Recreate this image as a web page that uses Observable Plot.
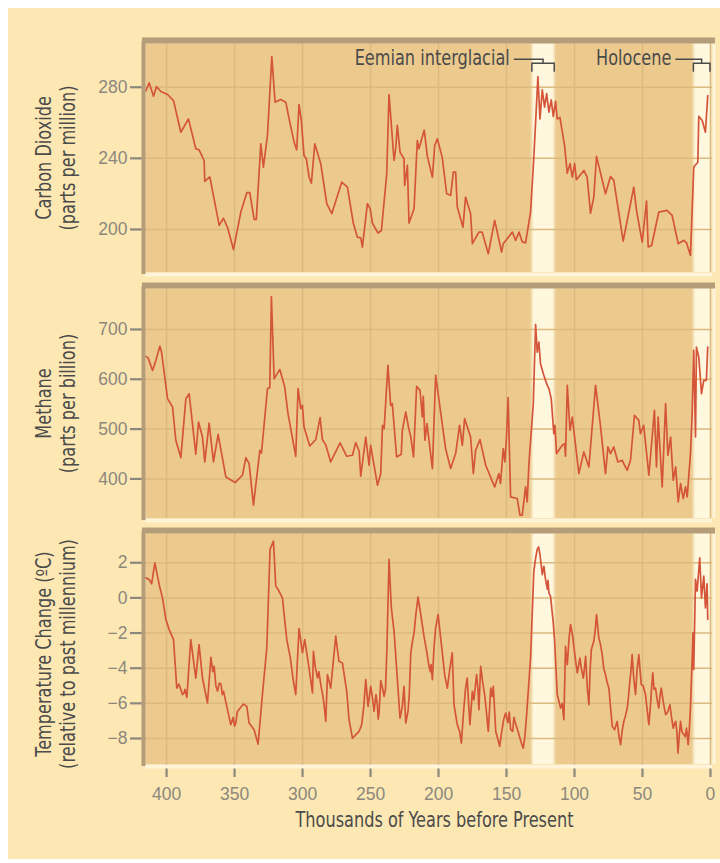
<!DOCTYPE html>
<html><head><meta charset="utf-8">
<script src="https://cdn.jsdelivr.net/npm/d3@7"></script>
<script src="https://cdn.jsdelivr.net/npm/@observablehq/plot@0.6"></script>
<style>
html,body{margin:0;padding:0;background:#fff;}
#chart{position:relative;width:720px;height:863px;overflow:hidden;}
#bg{position:absolute;left:8px;top:8px;width:712px;height:851px;background:#fde8b3;}
.panel{position:absolute;left:0;width:720px;}
.panel svg{display:block;}
</style></head><body>
<div id="chart"><div id="bg"></div></div>
<script>
// ---------- data (age in thousands of years before present, value) ----------
const xTicks = [400, 350, 300, 250, 200, 150, 100, 50, 0];
const co2Ticks = [200, 240, 280];
const ch4Ticks = [400, 500, 600, 700];
const tempTicks = [-8, -6, -4, -2, 0, 2];

const periodNames = ["Eemian interglacial", "Holocene"];
const periodStart = [131, 12.2];
const periodEnd = [114.5, 0];

const co2Titles = ["Carbon Dioxide", "(parts per million)"];
const ch4Titles = ["Methane", "(parts per billion)"];
const tempTitles = ["Temperature Change (ºC)", "(relative to past millennium)"];
const xTitle = "Thousands of Years before Present";

const co2 = [[415.2,278.1],[412.8,282.5],[409.6,274.9],[407.4,280.4],[404.2,277.6],[399.3,275.9],[394.9,272.5],[389.5,254.7],[383.9,262.2],[378.5,245.4],[376.1,244.8],[372.4,238.8],[371.9,227],[368.2,229.6],[361.3,202.3],[358.2,206.3],[355.2,201.2],[350.8,188.7],[345.4,209.8],[341,220.7],[338.8,220.7],[335.6,205.7],[334,205.7],[330.7,248.2],[328.8,235.1],[325.8,252.9],[322.6,297.2],[320.2,271.6],[316.1,273.1],[312.3,271.6],[309.9,262.2],[306.2,249.1],[304.3,244.8],[302.6,270.3],[300.9,261.3],[298.9,241.6],[297.2,239.8],[295.2,229.4],[293.5,226.1],[291,248.2],[286.6,237],[282.2,214.5],[278.5,208.9],[271.2,226.6],[267,223.8],[262.6,203.3],[259.7,195.7],[257.2,195.3],[256,190.1],[252.3,214.5],[250.3,211.7],[248.6,203.6],[244.5,198],[242,199.4],[238.1,231.3],[236.4,275.9],[232.7,238.8],[231.5,245.4],[230.3,258.5],[228.3,243.5],[225.4,239.8],[224.9,224.8],[222.9,236],[221.7,203.6],[218,211.7],[215.6,250],[214.4,245.4],[210.5,255.9],[208.2,241.1],[204.5,229.4],[202.8,247.2],[200.9,251],[197.3,240.7],[194,220.1],[191.1,219.2],[189.1,232.2],[187.4,232.2],[186.2,212.6],[182,201.3],[180.1,218.2],[176.4,208.9],[175.1,192],[170.3,198.5],[167.9,198.5],[163.4,186.4],[158.7,205.1],[153.6,187.3],[152.4,192],[145.7,198.5],[143.3,193.9],[140.8,198.5],[138.4,193],[136,192.5],[132.3,209.8],[129.9,240.7],[126.9,286],[125.4,262.2],[123.7,278.5],[122,268.8],[120.5,276.4],[118.8,266],[117.1,272.9],[115.6,263.6],[113.9,272.1],[112.7,262.2],[110.7,263],[107.3,247.2],[105.3,231.7],[103.3,237],[101.6,229.4],[99.9,237],[98.6,228],[93.1,233.2],[90.7,229.4],[88.2,209.2],[85.8,218.2],[83.8,241.1],[77.2,220.1],[73.5,229.8],[71.1,227.6],[64.2,193.5],[56.4,223.8],[54.4,210.7],[50.2,192.9],[47,216],[45.8,190.1],[43.3,191],[38,209.8],[31.9,210.7],[28.2,207.9],[23.7,192],[19.6,193.9],[17.6,192.5],[14.7,185.4],[12.3,235.1],[9.3,237.8],[8.6,263.6],[6.1,261.4],[3.7,254.7],[2,275.3]];

const ch4 = [[415.2,645.9],[413.5,642.4],[410.3,617.8],[407.9,637.9],[404.9,666.6],[403.7,654.5],[399.3,561.1],[395.6,544.3],[393.2,477.6],[389.5,442.9],[385.8,561.1],[383.4,571.1],[378.5,449.5],[376.5,514.2],[373.6,484.2],[371.9,434.1],[368.7,512.2],[365.5,434.1],[362.1,489.6],[356.4,404],[349.6,392.8],[344.2,407.4],[341.7,442.9],[339.3,430.9],[336.1,347.3],[331.4,457.5],[330.2,452],[325.8,581.2],[324.1,583],[322.9,766.1],[320.9,601.2],[316.7,619.8],[313.1,584.4],[310.7,531.1],[305,445.5],[303.3,581.2],[301.3,541.1],[300.1,547.7],[298.9,504.2],[294.7,466.1],[290.3,478.9],[287.1,523],[285.4,478.9],[283,468.9],[279.3,434.1],[272.4,472.2],[267.5,445.5],[263.3,447.5],[260.9,472.9],[258.4,456.1],[257.2,405.4],[253.5,484.2],[251.1,427.5],[249.9,467.5],[244.9,387.4],[242.5,410.8],[241.2,507.6],[240,500.9],[237.2,627.9],[235.2,547.7],[234,551.1],[230.8,444.1],[227.4,449.5],[226.6,497.6],[224.1,534.3],[222.1,504.2],[220.4,484.2],[218.4,444.1],[216.1,585.8],[213.6,577.8],[211.9,524.3],[211.2,565.7],[210,477.6],[208.5,511],[204.5,420.8],[202.1,607.8],[194.8,460.9],[191.1,420.8],[187.4,450.9],[184.5,507.6],[182.5,467.5],[180.8,521],[176.4,484.2],[174.4,410.8],[172.7,457.5],[169.5,478.9],[165.3,427.5],[158.7,384],[155.6,410.8],[154.4,390.8],[152.4,460.9],[151.2,434.1],[150,484.2],[148.8,563.1],[147,364],[142.1,360.7],[140.1,327.3],[138.4,327.3],[136,384],[134.8,353.9],[133.5,430.9],[130.3,551.1],[128.6,710],[127.4,654.5],[126.2,674.5],[125,631.3],[122.5,607.8],[121.3,597.8],[120,587.8],[118.8,581.2],[117.1,561.1],[115.2,491],[114.4,507.6],[113.2,450.9],[109,467.5],[107.3,470.8],[106.6,445.5],[105.3,587.8],[103.3,497.6],[101.6,524.3],[96.8,410.8],[93.1,454.2],[89.4,424],[84.5,587.8],[80.8,504.2],[77.2,410.8],[75.4,464.2],[73.5,450.9],[71.1,464.2],[68.1,434.1],[65,437.5],[61.2,417.4],[58.8,437.5],[55.9,527.7],[52.7,517.6],[51.5,491],[49.1,507.6],[45.3,407.4],[41.2,537.7],[39.7,424],[38.5,524.3],[35.5,384],[33,551.1],[31.3,447.5],[29.3,484.2],[27.4,397.4],[25.6,424],[23.7,353.9],[22,390.8],[20,360.7],[18.3,384],[17.1,364],[14.7,450.9],[13.5,527.7],[12.3,657.9],[11,484.2],[10.3,664.6],[8.6,644.5],[6.6,571.1],[4.9,597.8],[3,597.8],[2,664.6]];

const temp = [[415.2,1.14],[412.8,1.05],[411,0.8],[408.6,1.99],[405.4,0.74],[403,0],[400.5,-1.23],[398.1,-1.8],[394.9,-2.37],[392.5,-5.13],[391,-4.9],[389.5,-5.22],[388.3,-5.5],[387.1,-5.41],[386.5,-5.2],[385.1,-5.66],[382.2,-2.37],[378.5,-4.56],[376.1,-2.66],[373.6,-4.56],[369.9,-5.98],[367.4,-3.38],[366,-4.2],[365,-3.9],[363.7,-5.03],[362.5,-5.3],[361.3,-4.85],[360,-4.9],[359,-5.5],[358.1,-5.32],[352.8,-7.21],[351,-6.8],[350,-7.3],[349.1,-7.12],[347.9,-6.46],[343.5,-6.04],[341,-6.17],[339.3,-7.12],[335.6,-7.5],[332.7,-8.32],[329.5,-5.5],[326.3,-2.85],[323.9,2.76],[321.4,3.23],[319.7,0.67],[318,0.48],[314.8,0],[311.6,-2.37],[309,-3.4],[307,-4.6],[305,-5.5],[302.6,-1.74],[300.1,-3.13],[298.4,-2.37],[295.2,-3.99],[292.7,-5.41],[292,-3.04],[290.5,-4.0],[289,-4.56],[288,-4.2],[286.6,-4.93],[285,-5.6],[284,-6.2],[282.9,-7.03],[281.7,-4.37],[279.3,-5.13],[275.6,-2.18],[273.2,-3.61],[270.7,-3.7],[267.5,-5.32],[265.8,-6.93],[263.3,-7.98],[258.4,-7.6],[256.5,-7.2],[255,-6.2],[253.5,-4.65],[251.8,-6.17],[249.9,-5.03],[248.7,-5.6],[247.4,-6.46],[246,-5.5],[245,-6.08],[244.4,-6.9],[243.7,-6.55],[242.5,-4.71],[241.3,-5.1],[240,-5.6],[239,-5.2],[238,-3.0],[236.4,2.19],[234.7,-0.57],[232.7,-1.9],[228.3,-6.84],[226.6,-6.17],[225.4,-5.03],[224.1,-7.12],[222.4,-6.42],[221.5,-5.5],[220.4,-3.13],[219,-2.4],[218,-2.0],[216.8,-1.04],[215.1,0.04],[213.6,-0.66],[210.7,-2.18],[208.7,-3.04],[207,-3.89],[206,-4.2],[205.5,-3.8],[204.5,-4.65],[203.3,-2.8],[202.1,-1.71],[200.3,-0.95],[197.2,-3.13],[195.5,-4.37],[193.5,-5.13],[191.6,-3.99],[189.9,-3.13],[188.6,-6.08],[186.2,-7.21],[184.5,-7.6],[183.2,-8.26],[181.5,-6.4],[180.1,-5.13],[178.9,-4.56],[177.8,-6.1],[176.9,-7.21],[175.1,-5.32],[174,-5.8],[172,-4.37],[171,-5.2],[170.3,-6.36],[169,-3.89],[167.5,-4.8],[166.1,-5.5],[165,-6.3],[163.4,-7.6],[162.5,-6.4],[161.6,-5.13],[160.5,-5.6],[159.7,-5.03],[157.9,-7.6],[156.5,-8.0],[155,-8.45],[153.5,-7.6],[152,-6.9],[150.6,-6.55],[149,-7.1],[148,-6.5],[146.9,-7.5],[145.5,-7.6],[144.5,-6.8],[143.8,-7.03],[142.3,-7.4],[140.8,-7.78],[139.3,-8.2],[137.7,-8.55],[136.5,-7.9],[135.2,-6.64],[132.3,-3.42],[129.9,1.52],[128.5,2.3],[127.4,2.76],[126.4,2.9],[125.4,2.47],[124.5,1.9],[123.7,1.33],[122.5,1.8],[121.3,1.05],[120,0.5],[119.5,1.0],[118.8,0.28],[117.6,0.09],[115.6,-1.42],[114.6,-2.47],[112.7,-5.5],[110.2,-6.27],[109,-6.0],[107.8,-6.93],[106.6,-2.75],[105.3,-3.8],[104,-2.3],[102.9,-1.52],[101.5,-2.1],[99.9,-3.13],[98.8,-3.8],[97.9,-4.27],[96,-3.42],[95,-4.0],[93.5,-4.56],[92.5,-3.9],[91.8,-3.32],[90.5,-5.2],[89.4,-6.08],[88.5,-4.1],[87.6,-2.94],[85.8,-2.47],[84.7,-1.8],[83.8,-0.95],[82.1,-2.28],[81,-2.6],[79.6,-3.23],[78.5,-4.0],[77.2,-4.37],[76,-4.8],[74.7,-5.13],[73.5,-6.2],[72.2,-7.31],[70.5,-7.5],[68.6,-7.03],[67.4,-7.8],[66.1,-8.35],[65,-7.6],[63.7,-7.03],[62.5,-6.7],[61.2,-6.27],[60.5,-5.8],[59.3,-4.75],[58.5,-4.2],[57.6,-3.23],[56.5,-4.5],[55.1,-5.5],[54,-4.1],[52.7,-3.23],[52,-3.9],[50.9,-4.93],[49.5,-5.0],[47.8,-5.5],[46.5,-6.4],[45.3,-7.21],[44,-6.0],[43.2,-5.0],[42.4,-4.27],[41.5,-5.2],[40.4,-5.13],[39.2,-5.8],[38,-6.27],[37,-5.5],[36.2,-5.13],[34.5,-6.0],[33,-6.64],[31.5,-6.5],[29.8,-6.08],[28.6,-6.8],[27.4,-7.41],[26.5,-7.2],[25.6,-7.03],[24.7,-7.6],[23.9,-8.83],[23,-7.9],[22,-7.03],[21,-7.6],[19.6,-7.78],[18.6,-7.9],[17.6,-7.41],[16.4,-8.35],[15.5,-7.4],[14.7,-6.27],[12.8,-1.99],[12.3,-4.08],[11,1.05],[9.8,0.38],[7.9,2.28],[6.6,0],[4.9,1.24],[3.7,-0.57],[2.5,0.8],[2,-1.23]];

// ---------- styling ----------
const C = {panel:"#ecca8e", grid:"#dcb97f", band:"#fff7de", dark:"#b69d79", light:"#fff3d8",
           line:"#d4553a", tick:"#8c877d", text:"#4b4b4b"};
const X_DOMAIN = [415.5, -1.5];

function hasFont(name) {
  const c = document.createElement("canvas").getContext("2d");
  const s = "Thousands of Years abcdefgimw 0123";
  c.font = "20px monospace"; const w0 = c.measureText(s).width;
  c.font = `20px "${name}", monospace`; return c.measureText(s).width !== w0;
}
const TITLE_FONT = hasFont("Liberation Sans Narrow") ? '"Liberation Sans Narrow"' :
                   hasFont("DejaVu Sans Condensed") ? '"DejaVu Sans Condensed"' : '"Roboto", sans-serif';
const NUM_FONT = '"Liberation Sans", Arial, sans-serif';
const TITLE_SIZE = 20.5;
// horizontal compression so the condensed face matches the narrow original lettering
const SQUEEZE = (() => {
  const c = document.createElement("canvas").getContext("2d");
  c.font = `${TITLE_SIZE}px ${TITLE_FONT}`;
  return Math.min(1, 278 / c.measureText(xTitle).width);
})();

const periods = periodNames.map((name, i) => ({name, start: periodStart[i], end: periodEnd[i]}));
let uid = 0;

function squeezeText(root) {
  d3.select(root).selectAll('g[aria-label="text"] text, g.period-annotations text').each(function() {
    const parts = this.querySelectorAll("tspan");
    const list = parts.length ? Array.from(parts) : [this];
    for (const el of list) {
      const w = el.getComputedTextLength();
      if (w > 0) { el.setAttribute("textLength", (w * SQUEEZE).toFixed(1)); el.setAttribute("lengthAdjust", "spacingAndGlyphs"); }
    }
  });
}

function makePanel(cfg) {
  const rows = d3.sort(cfg.data.map(([age, v]) => ({age, v})), d => -d.age);
  const [y0, y1] = cfg.yDomain;
  const marks = [
    Plot.frame({fill: C.panel, stroke: "none"}),
    Plot.rect(periods, {x1: "start", x2: d => d.end === 0 ? X_DOMAIN[1] : d.end, y1: y0, y2: y1, fill: C.band}),
    Plot.ruleX(xTicks, {stroke: C.grid, strokeWidth: 1.5}),
    Plot.ruleY(cfg.yTicks, {stroke: C.grid, strokeWidth: 1.5}),
    Plot.line(rows, {x: "age", y: "v", stroke: C.line, strokeWidth: 1.7, strokeLinejoin: "round"}),
    Plot.ruleY([y0], {stroke: C.light, strokeWidth: 4, dy: 2}),
    Plot.ruleX([X_DOMAIN[1]], {stroke: C.light, strokeWidth: 3, dx: 1.5}),
    Plot.ruleX([X_DOMAIN[0]], {stroke: C.dark, strokeWidth: 4, dx: -2, strokeLinecap: "square"}),
    Plot.ruleY([y1], {stroke: C.dark, strokeWidth: 6, dy: -3, strokeLinecap: "square"}),
    Plot.text([cfg.titles.join("\n")], {frameAnchor: "left", textAnchor: "middle", lineAnchor: "middle",
      rotate: -90, dx: -90, dy: cfg.titleDy || 0,
      fill: C.text, fontFamily: TITLE_FONT, fontSize: TITLE_SIZE, lineHeight: 1.15})
  ];
  if (cfg.showX) {
    marks.push(Plot.text([xTitle], {frameAnchor: "bottom", textAnchor: "middle", dx: 5.5, dy: 62, fill: C.text,
      fontFamily: TITLE_FONT, fontSize: TITLE_SIZE}));
  }
  const svg = Plot.plot({
    width: 720, height: cfg.height,
    marginLeft: 145, marginRight: 8, marginTop: cfg.marginTop, marginBottom: cfg.marginBottom,
    style: {background: "transparent", color: C.tick, fontFamily: NUM_FONT, fontSize: "17.5px", overflow: "visible"},
    x: cfg.showX
      ? {domain: X_DOMAIN, ticks: xTicks, tickSize: 13, tickPadding: 10, tickFormat: d => String(d), label: null}
      : {domain: X_DOMAIN, axis: null},
    y: {domain: cfg.yDomain, ticks: cfg.yTicks, tickSize: 15, tickPadding: 3, label: null,
        tickFormat: d => (d < 0 ? "\u2212" + Math.abs(d) : String(d))},
    marks
  });
  d3.select(svg).selectAll('[aria-label^="y-axis"] line, [aria-label^="y-axis"] path, [aria-label^="x-axis"] line, [aria-label^="x-axis"] path')
    .attr("stroke-width", 2.2);
  // soft edges for the interglacial bands
  const id = "blur" + (uid++);
  d3.select(svg).insert("defs", ":first-child").append("filter").attr("id", id)
    .attr("x", "-20%").attr("width", "140%")
    .append("feGaussianBlur").attr("stdDeviation", "1.2 0");
  d3.select(svg).selectAll('g[aria-label="rect"]').attr("filter", `url(#${id})`);

  const div = document.createElement("div");
  div.className = "panel"; div.style.top = cfg.top + "px";
  div.appendChild(svg);
  document.getElementById("chart").appendChild(div);
  return svg;
}

const p1 = makePanel({top: 0, height: 280, marginTop: 43, marginBottom: 8, yDomain: [175.8, 304.6],
  yTicks: co2Ticks, data: co2, titles: co2Titles});
const p2 = makePanel({top: 280, height: 245, marginTop: 8, marginBottom: 7, yDomain: [320.6, 782.2],
  yTicks: ch4Ticks, data: ch4, titles: ch4Titles});
const p3 = makePanel({top: 525, height: 320, marginTop: 8, marginBottom: 81, yDomain: [-9.48, 3.665],
  yTicks: tempTicks, data: temp, titles: tempTitles, titleDy: 5, showX: true});

// ---------- period annotations on the top panel (positions via Plot's scales) ----------
(function annotate(svg) {
  let X, top;
  try { const sx = svg.scale("x"), sy = svg.scale("y"); X = v => sx.apply(v); top = sy.apply(304.6); }
  catch (e) { const s = d3.scaleLinear().domain(X_DOMAIN).range([145, 712]); X = s; top = 43; }
  const g = d3.select(svg).append("g").attr("class", "period-annotations");
  for (const p of periods) {
    const a = X(p.start), b = X(p.end), mid = (a + b) / 2;
    g.append("text").attr("x", a - 22).attr("y", top + 22).attr("text-anchor", "end")
      .attr("fill", C.text).attr("font-family", TITLE_FONT).attr("font-size", TITLE_SIZE).text(p.name);
    g.append("path").attr("fill", "none").attr("stroke", C.text).attr("stroke-width", 1.5)
      .attr("d", `M${a - 18},${top + 16.3}H${mid}V${top + 20.3}`);
    g.append("path").attr("fill", "none").attr("stroke", C.text).attr("stroke-width", 1.5)
      .attr("d", `M${a},${top + 28.7}V${top + 20.3}H${b}V${top + 28.7}`);
  }
})(p1);

[p1, p2, p3].forEach(squeezeText);
</script>
</body></html>
